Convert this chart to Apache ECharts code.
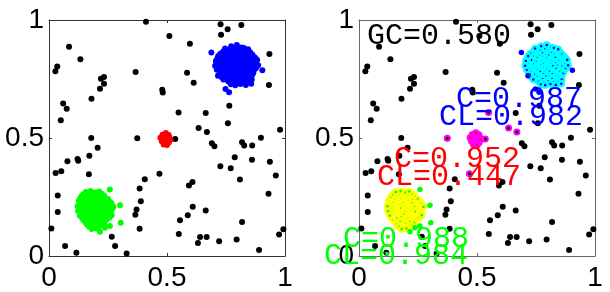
<!DOCTYPE html>
<html>
<head>
<meta charset="utf-8">
<script src="https://cdn.jsdelivr.net/npm/echarts@6/dist/echarts.min.js"></script>
<style>html,body{margin:0;padding:0;background:#fff;}#c{width:610px;height:292px;}</style>
</head>
<body>
<div id="c"></div>
<script>
// ---- data ----
var ticks = [0, 0.5, 1];
var noise = [
[0.411,0.993],[0.510,0.932],[0.597,0.899],[0.727,0.982],[0.757,0.961],[0.729,0.937],[0.815,0.979],
[0.085,0.887],[0.133,0.834],[0.035,0.803],[0.027,0.783],[0.934,0.856],[0.367,0.780],[0.585,0.777],
[0.613,0.734],[0.220,0.751],[0.233,0.759],[0.233,0.730],[0.216,0.709],[0.480,0.704],[0.482,0.693],
[0.180,0.666],[0.932,0.725],[0.060,0.646],[0.075,0.624],[0.050,0.575],[0.549,0.608],[0.664,0.606],
[0.764,0.637],[0.758,0.562],[0.634,0.542],[0.669,0.525],[0.979,0.535],[0.179,0.500],[0.374,0.499],
[0.535,0.496],[0.206,0.459],[0.171,0.425],[0.121,0.411],[0.124,0.404],[0.078,0.401],[0.690,0.478],
[0.701,0.465],[0.818,0.482],[0.827,0.468],[0.861,0.468],[0.898,0.501],[0.787,0.418],[0.726,0.380],
[0.770,0.372],[0.860,0.408],[0.936,0.399],[0.961,0.341],[0.809,0.324],[0.028,0.352],[0.052,0.359],
[0.169,0.346],[0.468,0.349],[0.406,0.325],[0.384,0.286],[0.608,0.314],[0.593,0.299],[0.930,0.264],
[0.037,0.256],[0.389,0.232],[0.371,0.197],[0.366,0.175],[0.609,0.209],[0.664,0.193],[0.588,0.173],
[0.555,0.151],[0.037,0.186],[0.818,0.144],[0.010,0.117],[0.384,0.115],[0.550,0.093],[0.640,0.080],
[0.631,0.055],[0.668,0.080],[0.721,0.062],[0.795,0.070],[0.975,0.091],[0.993,0.113],[0.890,0.025],
[0.266,0.082],[0.280,0.042],[0.068,0.042],[0.116,0.014],[0.329,0.011]
];
// noise points that the right-hand clustering attaches to the centre cluster
var magentaIdx = [26, 30, 31, 34, 35, 57];

var blueCore = [
[0.772,0.889],[0.796,0.894],[0.816,0.884],
[0.738,0.866],[0.757,0.870],[0.776,0.864],[0.797,0.871],[0.814,0.866],[0.836,0.872],[0.853,0.862],
[0.717,0.847],[0.736,0.851],[0.754,0.845],[0.777,0.849],[0.793,0.843],[0.816,0.850],[0.833,0.844],[0.856,0.849],[0.871,0.842],
[0.707,0.826],[0.729,0.830],[0.747,0.824],[0.769,0.829],[0.787,0.823],[0.809,0.831],[0.826,0.825],[0.849,0.829],[0.866,0.824],[0.882,0.831],
[0.704,0.806],[0.724,0.811],[0.746,0.805],[0.764,0.809],[0.786,0.804],[0.806,0.811],[0.824,0.805],[0.846,0.809],[0.863,0.803],[0.886,0.808],
[0.711,0.789],[0.733,0.785],[0.751,0.791],[0.773,0.786],[0.791,0.790],[0.813,0.784],[0.831,0.789],[0.853,0.785],[0.871,0.791],
[0.723,0.768],[0.741,0.771],[0.763,0.765],[0.781,0.769],[0.803,0.766],[0.821,0.770],[0.843,0.764],[0.861,0.768],
[0.739,0.748],[0.757,0.744],[0.779,0.749],[0.797,0.745],[0.819,0.750],[0.837,0.744],[0.859,0.748],
[0.771,0.728],[0.789,0.724],[0.811,0.729],[0.834,0.725],[0.857,0.730],
[0.746,0.879],[0.768,0.876],[0.786,0.880],[0.807,0.877],[0.826,0.881],[0.844,0.876],
[0.726,0.857],[0.747,0.860],[0.766,0.856],[0.786,0.859],[0.805,0.855],[0.826,0.860],[0.845,0.856],[0.862,0.853],
[0.713,0.837],[0.738,0.840],[0.758,0.836],[0.779,0.839],[0.798,0.835],[0.818,0.839],[0.839,0.836],[0.858,0.840],[0.876,0.836],
[0.715,0.818],[0.736,0.815],[0.755,0.820],[0.776,0.816],[0.797,0.819],[0.815,0.815],[0.836,0.820],[0.857,0.816],[0.875,0.819],
[0.718,0.797],[0.737,0.800],[0.758,0.796],[0.778,0.799],[0.797,0.795],[0.818,0.800],[0.838,0.796],[0.857,0.799],[0.877,0.797],
[0.727,0.779],[0.747,0.776],[0.767,0.780],[0.788,0.777],[0.807,0.780],[0.827,0.776],[0.847,0.779],[0.866,0.777],
[0.732,0.757],[0.752,0.760],[0.771,0.756],[0.791,0.759],[0.811,0.756],[0.831,0.760],[0.850,0.757],
[0.762,0.738],[0.782,0.735],[0.802,0.739],[0.823,0.736],[0.846,0.738]
];
var blueOut = [[0.688,0.862],[0.904,0.787],[0.716,0.764],[0.748,0.708],[0.763,0.694]];

var redCluster = [
[0.481,0.514],[0.495,0.521],[0.507,0.513],[0.472,0.501],[0.487,0.503],[0.502,0.498],
[0.515,0.494],[0.478,0.486],[0.493,0.484],[0.508,0.481],[0.486,0.472],[0.500,0.470],
[0.489,0.512],[0.495,0.493],[0.480,0.495],[0.510,0.503]
];

var greenCore = [
[0.156,0.271],[0.176,0.275],[0.196,0.269],[0.213,0.273],
[0.136,0.251],[0.154,0.255],[0.176,0.249],[0.194,0.254],[0.216,0.250],[0.234,0.255],
[0.126,0.233],[0.144,0.229],[0.166,0.234],[0.184,0.230],[0.206,0.235],[0.224,0.229],[0.246,0.233],[0.261,0.228],
[0.121,0.211],[0.141,0.214],[0.159,0.209],[0.181,0.213],[0.199,0.209],[0.221,0.214],[0.239,0.210],[0.259,0.213],[0.273,0.209],
[0.123,0.191],[0.143,0.194],[0.161,0.189],[0.183,0.193],[0.201,0.190],[0.223,0.194],[0.241,0.189],[0.263,0.193],
[0.131,0.171],[0.149,0.174],[0.171,0.169],[0.189,0.173],[0.211,0.170],[0.229,0.174],[0.251,0.169],[0.266,0.173],
[0.146,0.151],[0.166,0.154],[0.184,0.149],[0.206,0.153],[0.224,0.150],[0.244,0.154],
[0.161,0.133],[0.181,0.130],[0.199,0.134],[0.221,0.131],
[0.181,0.114],[0.201,0.117],
[0.145,0.262],[0.166,0.259],[0.185,0.263],[0.205,0.260],[0.224,0.264],
[0.131,0.242],[0.150,0.245],[0.170,0.241],[0.190,0.244],[0.210,0.240],[0.230,0.243],[0.250,0.241],
[0.130,0.222],[0.151,0.219],[0.170,0.223],[0.190,0.220],[0.211,0.224],[0.230,0.220],[0.250,0.223],[0.266,0.220],
[0.132,0.202],[0.152,0.199],[0.172,0.203],[0.192,0.200],[0.212,0.204],[0.232,0.201],[0.252,0.203],[0.268,0.200],
[0.136,0.182],[0.156,0.185],[0.176,0.181],[0.196,0.184],[0.216,0.180],[0.236,0.183],[0.256,0.181],
[0.140,0.162],[0.158,0.160],[0.178,0.163],[0.198,0.160],[0.218,0.164],[0.238,0.161],[0.256,0.163],
[0.155,0.142],[0.175,0.145],[0.195,0.141],[0.215,0.144],[0.234,0.141],
[0.170,0.124],[0.190,0.122],[0.210,0.125]
];
var greenOut = [[0.258,0.282],[0.301,0.215],[0.304,0.141],[0.258,0.127],[0.237,0.120],[0.216,0.103]];

var labelsGC = ['GC=0.580'];
var labelsBlue = ['C=0.987', 'CL=0.982'];
var labelsRed = ['C=0.952', 'CL=0.447'];
var labelsGreen = ['C=0.988', 'CL=0.984'];

// ---- chart ----
var chart = echarts.init(document.getElementById('c'), null, {renderer: 'canvas'});
var tickFont = {fontFamily: 'Liberation Sans', fontSize: 28, color: '#000'};

function xAx(gi, pos, showLabel, lineColor) {
  return {
    type: 'value', gridIndex: gi, position: pos, min: 0, max: 1, interval: 0.5,
    axisLine: {show: true, onZero: false, lineStyle: {color: lineColor, width: 1}},
    axisTick: {show: true, inside: true, length: 3, lineStyle: {color: lineColor}},
    splitLine: {show: false},
    axisLabel: Object.assign({show: showLabel, margin: 8, formatter: function (v) { return String(v); }}, tickFont)
  };
}
function yAx(gi, pos, showLabel, lineColor) {
  return {
    type: 'value', gridIndex: gi, position: pos, min: 0, max: 1, interval: 0.5,
    axisLine: {show: true, onZero: false, lineStyle: {color: lineColor, width: 1}},
    axisTick: {show: true, inside: true, length: 3, lineStyle: {color: lineColor}},
    splitLine: {show: false},
    axisLabel: Object.assign({show: showLabel, margin: 5, formatter: function (v) { return String(v); }}, tickFont)
  };
}

function sc(xi, yi, data, size, fill, border, bw, z) {
  return {
    type: 'scatter', xAxisIndex: xi, yAxisIndex: yi, data: data, symbol: 'circle',
    symbolSize: size, z: z || 2, silent: true, large: false,
    itemStyle: {color: fill, opacity: 1, borderColor: border || fill, borderWidth: bw || 0}
  };
}

// drawing order: centre of a cluster first, rim last (values unchanged)
function centreOut(pts) {
  var mx = 0, my = 0;
  pts.forEach(function (p) { mx += p[0]; my += p[1]; });
  mx /= pts.length; my /= pts.length;
  return pts.slice().sort(function (a, b) {
    return (Math.hypot(a[0] - mx, a[1] - my)) - (Math.hypot(b[0] - mx, b[1] - my));
  });
}

var leftC = '#333', rightC = '#666';
var magentaNoise = magentaIdx.map(function (i) { return noise[i]; });

var textFont = '30px "Liberation Mono"';
function txt(s, x, y, color) {
  return {type: 'text', x: x, y: y, z: 100,
    style: {text: s, font: textFont, fill: color, textAlign: 'left', align: 'left',
            textVerticalAlign: 'middle', verticalAlign: 'middle'}};
}

chart.setOption({
  animation: false,
  backgroundColor: '#fff',
  grid: [
    {left: 49, top: 20, width: 236, height: 237},
    {left: 359, top: 20, width: 236, height: 237}
  ],
  xAxis: [xAx(0, 'bottom', true, leftC), xAx(0, 'top', false, leftC), xAx(1, 'bottom', true, rightC), xAx(1, 'top', false, rightC)],
  yAxis: [yAx(0, 'left', true, leftC), yAx(0, 'right', false, leftC), yAx(1, 'left', true, rightC), yAx(1, 'right', false, rightC)],
  series: [
    // left panel
    sc(0, 0, noise, 6, '#000'),
    sc(0, 0, blueCore.concat(blueOut), 6, '#0000ff'),
    sc(0, 0, redCluster, 6, '#ff0000'),
    sc(0, 0, greenCore.concat(greenOut), 6, '#00ff00'),
    // right panel
    sc(2, 2, noise, 6, '#000'),
    sc(2, 2, magentaNoise, 5, '#000', '#ff00ff', 2),
    sc(2, 2, centreOut(redCluster), 5, '#ff0000', '#ff00ff', 2.5),
    sc(2, 2, centreOut(blueCore), 5, '#0000ff', '#00ffff', 2.4),
    sc(2, 2, blueOut, 5.5, '#0000ff'),
    sc(2, 2, centreOut(greenCore), 5, '#00ff00', '#ffff00', 2.4),
    sc(2, 2, greenOut, 5.5, '#00ff00')
  ],
  graphic: [
    txt(labelsGC[0], 367, 36, '#000'),
    txt(labelsBlue[0], 456, 99, '#0000ff'),
    txt(labelsBlue[1], 439, 117, '#0000ff'),
    txt(labelsRed[0], 394, 159, '#ff0000'),
    txt(labelsRed[1], 377, 177, '#ff0000'),
    txt(labelsGreen[0], 343, 239, '#00ff00'),
    txt(labelsGreen[1], 324, 256, '#00ff00')
  ]
});
</script>
</body>
</html>
